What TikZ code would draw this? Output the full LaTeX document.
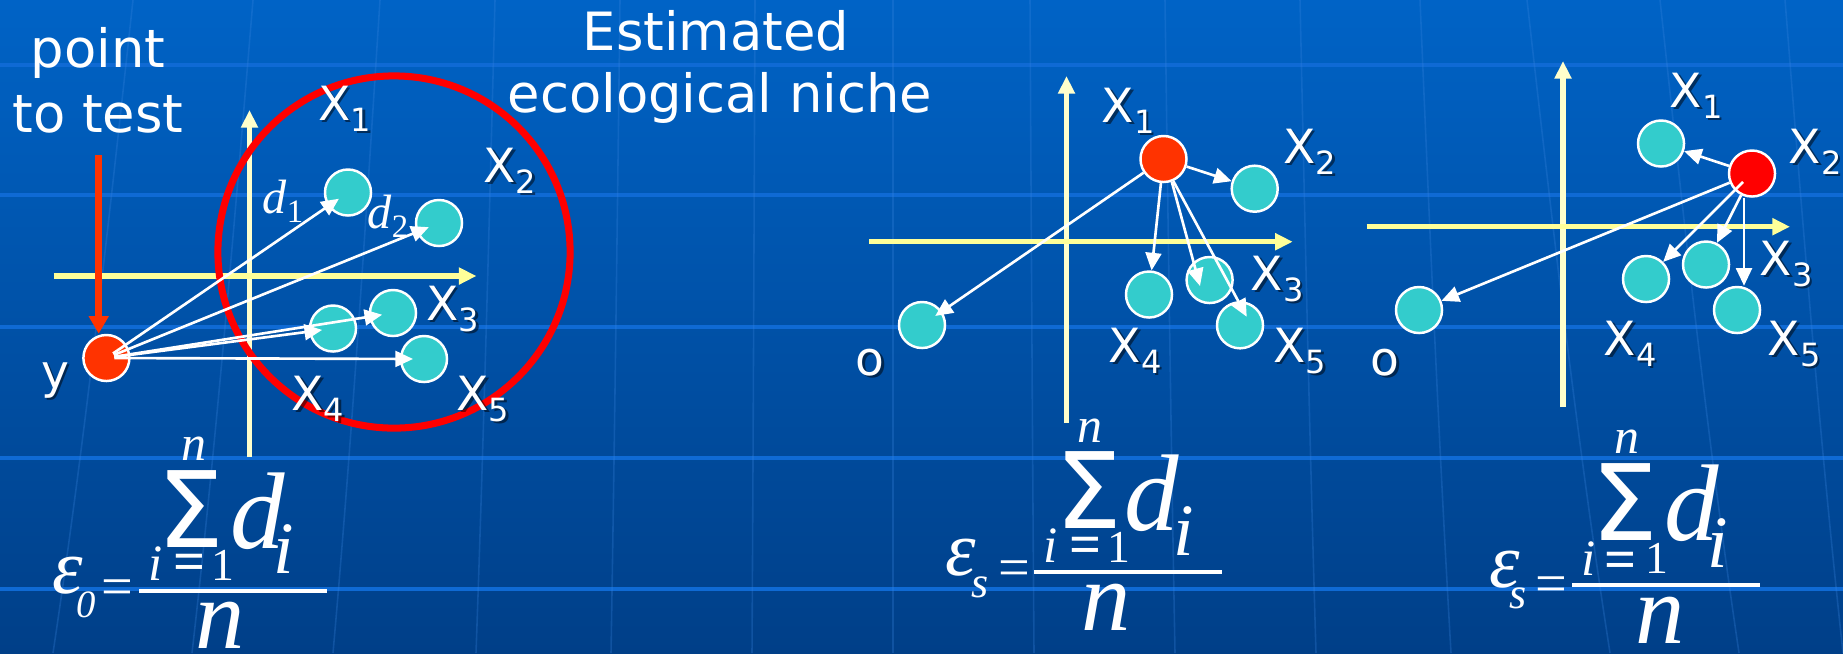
\documentclass[tikz,border=0pt]{standalone}
\usepackage{fontspec}
\setmainfont{DejaVu Sans}
\newfontfamily\tms{Liberation Serif}
\usetikzlibrary{arrows.meta,calc}
\definecolor{bgtop}{HTML}{0063C6}
\definecolor{bgbot}{HTML}{003F88}
\definecolor{gridln}{HTML}{0F6AD4}
\definecolor{merln}{HTML}{3A86E0}
\definecolor{dotteal}{HTML}{33CCCC}
\definecolor{ored}{HTML}{FF3300}
\definecolor{axisy}{HTML}{FFFF99}
\definecolor{axisv}{HTML}{FFFFCC}
\newcommand\fs[1]{\fontsize{#1}{#1}\selectfont}
\newcommand\fit[1]{\tms\itshape\fs{#1}}
\newcommand\fup[1]{\tms\upshape\fs{#1}}
\newcommand\sbx[1]{\raisebox{-3.2pt}{\fs{9.1}#1}}
\newcommand\sbd[1]{\raisebox{-2.6pt}{\fup{9.3}#1}}
\tikzset{
  dot/.style={circle, minimum size=0.46cm, inner sep=0pt, draw=white, line width=0.7pt, fill=dotteal},
  rdot/.style={dot, fill=ored},
  arr/.style={white, line width=0.75pt, -{Triangle[length=5pt,width=4.5pt]}},
  redarr/.style={ored, line width=2pt, -{Triangle[length=5pt,width=5.4pt]}},
  axh/.style={axisy, line width=1.45pt, -{Triangle[length=5pt,width=4.6pt]}},
  axv/.style={axisv, line width=1.45pt, -{Triangle[length=5pt,width=4.6pt]}},
  lab/.style={inner sep=0pt, text=white, anchor=base west, font=\fs{13.4}},
  shd/.style={inner sep=0pt, text=black, opacity=0.5, anchor=base west, font=\fs{13.4}},
  dlab/.style={inner sep=0pt, text=white, anchor=base west, font=\fit{13.7}},
  ttl/.style={inner sep=0pt, text=white, anchor=base, font=\fs{15}},
  fm/.style={inner sep=0pt, text=white, anchor=base},
  fq/.style={inner sep=0pt, text=white, anchor=center},
  bar/.style={white, line width=1.4pt},
  gline/.style={gridln, line width=0.9pt},
  mline/.style={merln, line width=0.45pt, opacity=0.28},
}
\newcommand\xlab[4]{%
  \node[shd] (#1s) at (#2+2.5,#3+2.5) {#4};
  \node[lab] (#1) at (#2,#3) {#4};}
\begin{document}
\begin{tikzpicture}[x=0.01cm,y=-0.01cm]
% background
\shade[top color=bgtop, bottom color=bgbot] (0,0) rectangle (1843,653);
\useasboundingbox (0,0) rectangle (1843,653);
\foreach \yy in {65,195,327,458,589} \draw[gline] (0,\yy) -- (1843,\yy);
\foreach \xt/\xb in {133/53, 253/192, 380/333, 495/476, 620/611, 755/752, 893/893, 1030/1034, 1165/1175, 1300/1316, 1420/1451, 1527/1610, 1660/1739, 1785/1843}
  \draw[mline] (\xt,0) .. controls ({\xt+0.3*(\xb-\xt)},220) and ({\xt+0.6*(\xb-\xt)},440) .. (\xb,653);

% titles
\node[ttl] (pt1) at (98,67) {point};
\node[ttl] (pt2) at (98,132) {to test};
\node[ttl] (es1) at (716,50) {Estimated};
\node[ttl] (es2) at (720,112) {ecological niche};

% ---------- panel 1 ----------
\coordinate (a1l) at (53.6,276);  \coordinate (a1r) at (476.5,276);
\coordinate (a1b) at (249.5,457); \coordinate (a1t) at (249.5,110);
\draw[axv] (a1b) -- (a1t);
\draw[axh] (a1l) -- (a1r);
\node[circle, draw=red, line width=2pt, minimum size=3.52cm, inner sep=0pt] (niche) at (394,252) {};
\node[rdot] (ydot) at (106.4,358) {};
\node[dot] (p1x1) at (348,192.5) {};
\node[dot] (p1x2) at (439,223) {};
\node[dot] (p1x3) at (393,313) {};
\node[dot] (p1x4) at (333,328.5) {};
\node[dot] (p1x5) at (424,359) {};
\coordinate (rs) at (98.7,155);
\draw[redarr] (rs) -- (rs |- ydot.north);
\foreach \t in {p1x1,p1x2,p1x3,p1x4,p1x5}
  \draw[arr, shorten <=0.08cm, shorten >=0.11cm] (ydot.center) -- (\t.center);
\xlab{l1x1}{317.6}{120}{X\sbx{1}}
\xlab{l1x2}{483}{182}{X\sbx{2}}
\xlab{l1x3}{425.6}{320}{X\sbx{3}}
\xlab{l1x4}{291}{410}{X\sbx{4}}
\xlab{l1x5}{456}{410}{X\sbx{5}}
\node[shd, anchor=base] (l1ys) at (57.5,390.5) {y};
\node[lab, anchor=base] (l1y) at (55,388) {y};
\node[dlab] (d1) at (262,213) {d\sbd{1}};
\node[dlab] (d2) at (367,228) {d\sbd{2}};

% ---------- panel 2 ----------
\coordinate (a2l) at (869,241.7);  \coordinate (a2r) at (1292.7,241.7);
\coordinate (a2b) at (1066.5,423); \coordinate (a2t) at (1066.5,76);
\draw[axv] (a2b) -- (a2t);
\draw[axh] (a2l) -- (a2r);
\node[rdot] (p2x1) at (1163.5,159) {};
\node[dot] (p2x2) at (1254.7,188.7) {};
\node[dot] (p2x3) at (1209.6,280) {};
\node[dot] (p2x4) at (1149,294.5) {};
\node[dot] (p2x5) at (1240,325.3) {};
\node[dot] (p2o) at (922,325) {};
\draw[arr] (p2x1) -- (p2x2);
\draw[arr] (p2x1) -- (p2x4);
\draw[arr, shorten >=0.16cm] (p2x1) -- (p2o.center);
\draw[arr] (p2x1.-70) -- ([shift={(-9.6,6)}]p2x3.center);
\draw[arr] (p2x1.-66) -- ([shift={(6.7,-8.6)}]p2x5.center);
\xlab{l2x1}{1101}{122}{X\sbx{1}}
\xlab{l2x2}{1282.7}{163}{X\sbx{2}}
\xlab{l2x3}{1250}{290}{X\sbx{3}}
\xlab{l2x4}{1108}{362}{X\sbx{4}}
\xlab{l2x5}{1272.7}{362}{X\sbx{5}}
\node[shd, anchor=base] (l2os) at (872.5,377.5) {o};
\node[lab, anchor=base] (l2o) at (870,375) {o};

% ---------- panel 3 ----------
\coordinate (a3l) at (1366.5,226.7); \coordinate (a3r) at (1790,226.7);
\coordinate (a3b) at (1563,407);     \coordinate (a3t) at (1563,61);
\draw[axv] (a3b) -- (a3t);
\draw[axh] (a3l) -- (a3r);
\node[dot, fill=red] (p3x2) at (1752,173.5) {};
\node[dot] (p3x1) at (1661,143.5) {};
\node[dot] (p3x3) at (1706,264.5) {};
\node[dot] (p3x4) at (1646,279) {};
\node[dot] (p3x5) at (1737,310) {};
\node[dot] (p3o) at (1419,310) {};
\draw[arr] (p3x2) -- (p3x1);
\draw[arr] (p3x2) -- (p3o);
\draw[arr] ([shift={(-9,8.5)}]p3x2.center) -- (p3x4);
\draw[arr] (p3x2) -- (p3x3);
\path ([xshift=-0.08cm]p3x2.south) coordinate (p3s);
\draw[arr] (p3s) -- (p3s |- p3x5.north);
\xlab{l3x1}{1669}{107}{X\sbx{1}}
\xlab{l3x2}{1788}{163}{X\sbx{2}}
\xlab{l3x3}{1759}{275}{X\sbx{3}}
\xlab{l3x4}{1603}{355}{X\sbx{4}}
\xlab{l3x5}{1767}{355}{X\sbx{5}}
\node[shd, anchor=base] (l3os) at (1387.5,377.5) {o};
\node[lab, anchor=base] (l3o) at (1385,375) {o};

% ---------- formula 1 ----------
\node[fm, font=\fit{14.2}] (f1n) at (194,460) {n};
\node[fm, font=\fs{30}] (f1S) at (190.5,547) {Σ};
\node[fm, font=\fit{31}] (f1d) at (258,548) {d};
\node[fm, font=\fit{21}] (f1di) at (284,573) {i};
\node[fm, font=\fit{14.5}] (f1i) at (156,580) {i};
\node[fq, font=\tms\bfseries\fs{16}] (f1eq) at (190,567) {=};
\node[fm, font=\fup{13}] (f1one) at (223,580) {1};
\node[fm, font=\fit{22}] (f1e) at (68,593) {ε};
\node[fm, font=\fit{11}] (f1z) at (86,617) {0};
\node[fq, font=\fup{16}] (f1eq2) at (117,593) {=};
\coordinate (f1bl) at (139,591); \coordinate (f1br) at (327,591);
\draw[bar] (f1bl) -- (f1br);
\node[fm, font=\fit{28}] (f1den) at (220,648) {n};

% ---------- formula 2 ----------
\node[fm, font=\fit{14.2}] (f2n) at (1090,442) {n};
\node[fm, font=\fs{30}] (f2S) at (1088.5,528) {Σ};
\node[fm, font=\fit{31}] (f2d) at (1152,530) {d};
\node[fm, font=\fit{21}] (f2di) at (1184,555) {i};
\node[fm, font=\fit{14.5}] (f2i) at (1051,562) {i};
\node[fq, font=\tms\bfseries\fs{16}] (f2eq) at (1086,550) {=};
\node[fm, font=\fup{13}] (f2one) at (1119,562) {1};
\node[fm, font=\fit{22}] (f2e) at (961,575) {ε};
\node[fm, font=\fit{12.5}] (f2s) at (980,597) {s};
\node[fq, font=\fup{16}] (f2eq2) at (1014,574) {=};
\coordinate (f2bl) at (1034,572); \coordinate (f2br) at (1222,572);
\draw[bar] (f2bl) -- (f2br);
\node[fm, font=\fit{28}] (f2den) at (1106,630) {n};

% ---------- formula 3 ----------
\node[fm, font=\fit{14.2}] (f3n) at (1627,453) {n};
\node[fm, font=\fs{30}] (f3S) at (1624.5,540) {Σ};
\node[fm, font=\fit{31}] (f3d) at (1692,540) {d};
\node[fm, font=\fit{21}] (f3di) at (1718,567) {i};
\node[fm, font=\fit{14.5}] (f3i) at (1589,575) {i};
\node[fq, font=\tms\bfseries\fs{16}] (f3eq) at (1621,565) {=};
\node[fm, font=\fup{13}] (f3one) at (1657,573) {1};
\node[fm, font=\fit{22}] (f3e) at (1505,587) {ε};
\node[fm, font=\fit{12.5}] (f3s) at (1518,608) {s};
\node[fq, font=\fup{16}] (f3eq2) at (1551,590) {=};
\coordinate (f3bl) at (1572,585); \coordinate (f3br) at (1760,585);
\draw[bar] (f3bl) -- (f3br);
\node[fm, font=\fit{28}] (f3den) at (1660,643) {n};
\end{tikzpicture}
\end{document}
